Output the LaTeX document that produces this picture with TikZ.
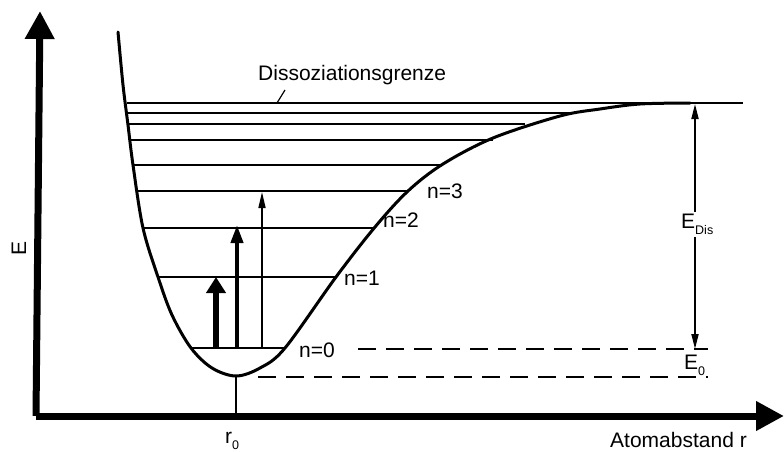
\documentclass[tikz,border=0pt]{standalone}
\usepackage{fontspec}
\setmainfont{Liberation Sans}
\usetikzlibrary{arrows.meta}
\newcommand{\mysub}[1]{\raisebox{-0.33em}{\fontsize{12.5}{12.5}\selectfont #1}}
\begin{document}
\begin{tikzpicture}[x=1pt,y=-1pt,
  lbl/.style={font=\fontsize{21}{22}\selectfont, inner sep=0pt, anchor=base west},
  axis/.style={line width=7pt, -{Triangle[length=28pt,width=28pt]}},
  level/.style={line width=2pt},
  dashlevel/.style={line width=1.8pt, dash pattern=on 18pt off 10pt},
  curve/.style={line width=3pt, line cap=round}]
\useasboundingbox (0,0) rectangle (784,452);
% axes
\coordinate (O) at (40,416);
\coordinate (ytip) at (40,11);
\coordinate (xtip) at (784,416);
\draw[axis] (36,416) -- (ytip);
\draw[axis] (36,416) -- (xtip);
% potential curve
\draw[curve] plot[smooth, tension=0.55] coordinates {(118,32) (123,85) (128,125) (133,165) (143,228) (158,277) (172,315) (191,348) (212,368) (236,376) (260,368) (285,348) (336,277) (375,227) (408,191) (443,164) (493,138) (560,116) (600,109) (640,104) (690,103)};
% levels
\draw[line width=2.6pt] (127,103) -- (743,103);
\draw[level] (128,113) -- (575,113);
\draw[level] (129,124) -- (525,124);
\draw[level] (130,140) -- (493,140);
\draw[level] (133,165) -- (443,165);
\draw[level] (138,191) -- (408,191);
\draw[level] (143,228) -- (375,228);
\draw[level] (158,277) -- (336,277);
\draw[level] (191,348) -- (285,348);
% r0 line
\coordinate (min) at (236,376);
\draw[line width=1.5pt] (min) -- (236,416);
% dashed
\draw[dashlevel] (358,349) -- (708,349);
\draw[dashlevel] (258,377) -- (708,377);
% transition arrows
\coordinate (a0) at (216,348); \coordinate (a1) at (216,277);
\coordinate (b0) at (237,348); \coordinate (b1) at (237,225);
\coordinate (c0) at (262,348); \coordinate (c1) at (262,192);
\draw[line width=6pt, -{Triangle[length=16pt,width=19pt]}] (a0) -- (a1);
\draw[line width=4pt, -{Triangle[length=18pt,width=12pt]}] (b0) -- (b1);
\draw[line width=1.6pt, -{Triangle[length=16pt,width=7pt]}] (c0) -- (c1);
% E_Dis arrow
\coordinate (dtop) at (695,104);
\coordinate (dbot) at (695,349);
\draw[line width=1.8pt, {Triangle[length=15pt,width=7pt]}-{Triangle[length=15pt,width=7pt]}] (dtop) -- (dbot);
\node[lbl, fill=white, inner sep=2pt, anchor=base west] (edis) at (679,228) {E\mysub{Dis}};
\node[lbl] (e0) at (684,369) {E\mysub{0}};
% labels
\node[lbl] (diss) at (258,81) {Dissoziationsgrenze};
\coordinate (dl1) at (277,103); \coordinate (dl2) at (285,90);
\draw[line width=1.2pt] (dl1) -- (dl2);
\node[lbl] (n0) at (299,357) {n=0};
\node[lbl] (n1) at (344,285) {n=1};
\node[lbl] (n2) at (383,227) {n=2};
\node[lbl] (n3) at (427,198) {n=3};
\node[lbl, anchor=center, rotate=90] (E) at (19,248) {E};
\node[lbl] (r0) at (225,443) {r\mysub{0}};
\node[lbl] (ar) at (610,447) {Atomabstand r};
\end{tikzpicture}
\end{document}
